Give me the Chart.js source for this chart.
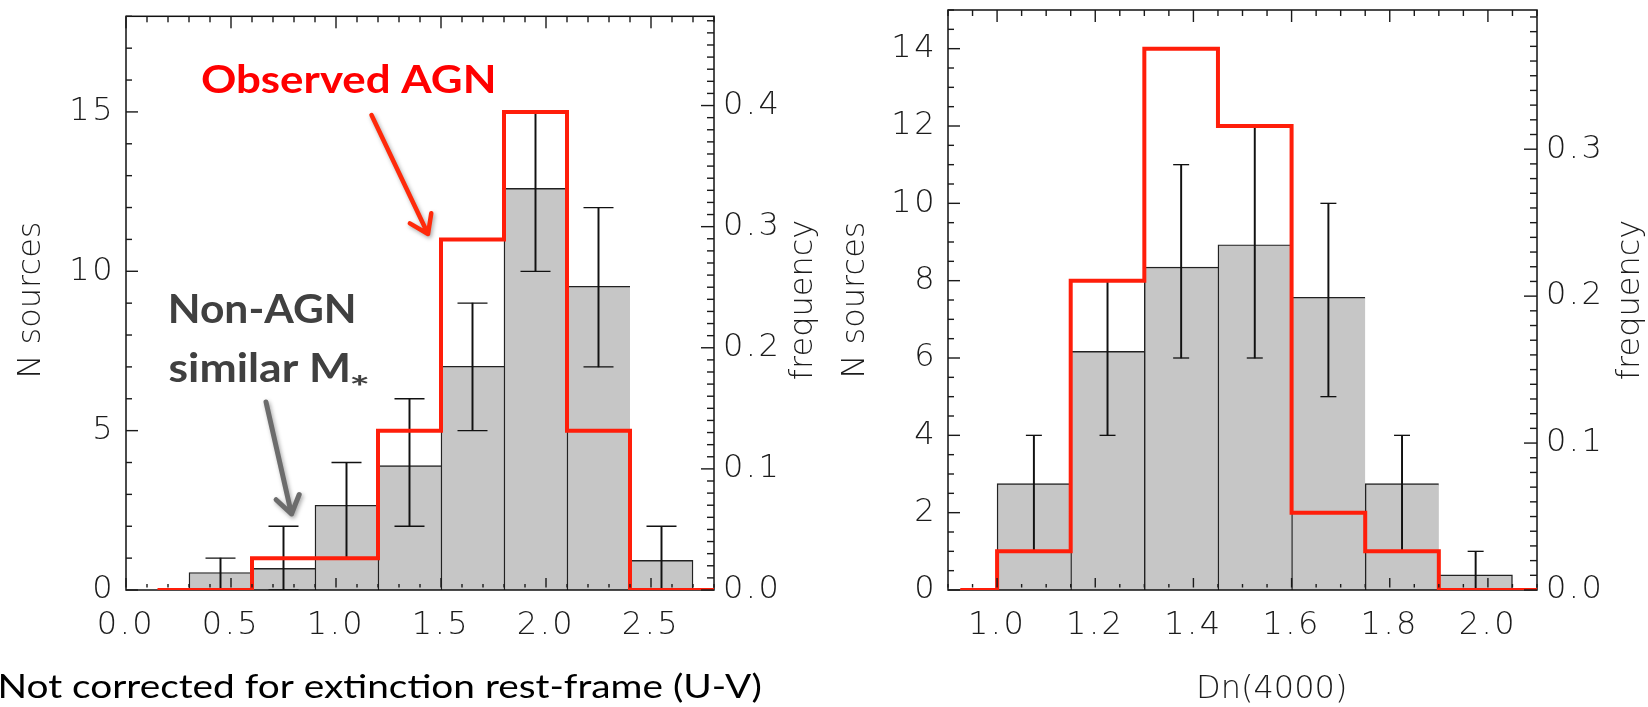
<!DOCTYPE html>
<html><head><meta charset="utf-8">
<script src="https://cdn.jsdelivr.net/npm/chart.js@4/dist/chart.umd.min.js"></script>
<style>
html,body{margin:0;padding:0;background:#fff;width:1648px;height:707px;overflow:hidden}
.wrap{position:absolute;top:0;width:824px;height:707px}
#w1{left:0}#w2{left:824px}
</style></head><body>
<div class="wrap" id="w1"><canvas id="c1"></canvas></div>
<div class="wrap" id="w2"><canvas id="c2"></canvas></div>
<script>
// ---------- data: left panel, rest-frame (U-V) ----------
const uvAgnCenters  = [0.15,0.45,0.75,1.05,1.35,1.65,1.95,2.25,2.55,2.85];
const uvAgn         = [0,   0,   1,   1,   5,   11,  15,  5,   0,   0];
const uvBinCenters  = [0.45,0.75,1.05,1.35,1.65,1.95,2.25,2.55];
const uvNonAgn      = [0.55,0.68,2.66,3.9, 7.02,12.6,9.53,0.93];
const uvErrLo       = [0,   0,   1,   2,   5,   10,  7,   0];
const uvErrHi       = [1,   2,   4,   6,   9,   15,  12,  2];
const uvXTicks      = [0.0,0.5,1.0,1.5,2.0,2.5];
const uvNTicks      = [0,5,10,15];
const uvFreqTicks   = [0.0,0.1,0.2,0.3,0.4];

// ---------- data: right panel, Dn(4000) ----------
const dnAgnCenters  = [0.925,1.075,1.225,1.375,1.525,1.675,1.825,1.975,2.125];
const dnAgn         = [0,    1,    8,    14,   12,   2,    1,    0,    0];
const dnBinCenters  = [1.075,1.225,1.375,1.525,1.675,1.825,1.975];
const dnNonAgn      = [2.75, 6.17, 8.35, 8.93, 7.57, 2.75, 0.39];
const dnErrLo       = [1,    4,    6,    6,    5,    1,    0];
const dnErrHi       = [4,    8,    11,   12,   10,   4,    1];
const dnXTicks      = [1.0,1.2,1.4,1.6,1.8,2.0];
const dnNTicks      = [0,2,4,6,8,10,12,14];
const dnFreqTicks   = [0.0,0.1,0.2,0.3];

const agnTotal = 38;   // frequency = N / total AGN

// ---------- styling ----------
const THIN = "'DejaVu Sans', sans-serif";
const CAL = "Lato, 'Open Sans', sans-serif";
const INK = '#1c1c1c';

function inkText(ctx, txt, font, x, y, color, targetW, align) {
  ctx.save();
  ctx.letterSpacing = '0px';
  ctx.font = font; ctx.fillStyle = color; ctx.textBaseline = 'alphabetic'; ctx.textAlign = 'left';
  const m = ctx.measureText(txt);
  const w = m.actualBoundingBoxLeft + m.actualBoundingBoxRight;
  const sx = targetW ? targetW / w : 1;
  let left = x;
  if (align === 'center') left = x - w * sx / 2;
  ctx.translate(left, y); ctx.scale(sx, 1);
  ctx.fillText(txt, m.actualBoundingBoxLeft, 0);
  ctx.restore();
}
function rotText(ctx, txt, cx, cy) {
  ctx.save();
  ctx.letterSpacing = '0px';
  ctx.font = `200 32px ${THIN}`; ctx.fillStyle = INK;
  ctx.textAlign = 'center'; ctx.textBaseline = 'middle';
  ctx.translate(cx, cy); ctx.rotate(-Math.PI / 2);
  ctx.fillText(txt, 0, 0);
  ctx.restore();
}
function arrow(ctx, x1, y1, x2, y2, color, lw) {
  ctx.save();
  ctx.strokeStyle = color; ctx.lineWidth = lw; ctx.lineCap = 'round'; ctx.lineJoin = 'round';
  ctx.shadowColor = 'rgba(0,0,0,0.35)'; ctx.shadowBlur = 4; ctx.shadowOffsetX = 1.5; ctx.shadowOffsetY = 2;
  const a = Math.atan2(y1 - y2, x1 - x2), L = 21, h = 0.6;
  ctx.beginPath();
  ctx.moveTo(x1, y1); ctx.lineTo(x2, y2);
  ctx.moveTo(x2 + L * Math.cos(a + h), y2 + L * Math.sin(a + h));
  ctx.lineTo(x2, y2);
  ctx.lineTo(x2 + L * Math.cos(a - h), y2 + L * Math.sin(a - h));
  ctx.stroke();
  ctx.restore();
}

function range(a, b, step) {
  const r = []; const n = Math.round((b - a) / step);
  for (let k = 0; k <= n; k++) r.push(a + k * step);
  return r;
}
function isMaj(v, step) { return Math.abs(v / step - Math.round(v / step)) < 1e-6; }

function drawFrame(chart) {
  const ctx = chart.ctx, ca = chart.chartArea;
  ctx.save();
  ctx.strokeStyle = '#111'; ctx.lineWidth = 1.5;
  ctx.strokeRect(ca.left, ca.top, ca.right - ca.left, ca.bottom - ca.top);
  ctx.restore();
}
function drawTicks(chart, p) {
  const ctx = chart.ctx, ca = chart.chartArea;
  const xs = chart.scales.x, ys = chart.scales.y, fs = chart.scales.yf;
  ctx.save();
  ctx.fillStyle = '#1a1a1a';
  const seg = (x, y, w, h) => ctx.fillRect(x, y, w, h);
  range(p.xMin, p.xMax, p.xMinor).forEach(v => {
    const px = xs.getPixelForValue(v);
    const L = isMaj(v, p.xMajor) ? 12 : 6;
    seg(px - 0.7, ca.bottom - L, 1.4, L - 2.5);
    seg(px - 0.7, ca.top, 1.4, L);
  });
  range(0, p.nMax, p.nMinor).forEach(v => {
    const py = ys.getPixelForValue(v);
    const L = isMaj(v, p.nMajor) ? 12 : 6;
    seg(ca.left, py - 0.7, L, 1.4);
  });
  range(0, Math.floor(p.nMax / agnTotal * 100) / 100, 0.01).forEach(v => {
    const py = fs.getPixelForValue(v);
    const L = isMaj(v, 0.1) ? 13 : 7;
    seg(ca.right - L, py - 0.7, L, 1.4);
  });
  ctx.restore();
}
function noPad(s) { s.paddingTop = 0; s.paddingBottom = 0; s.paddingLeft = 0; s.paddingRight = 0; }

function makePanel(canvasId, p) {
  const tickFont = {family: THIN, size: 32, weight: 200};
  const capData = [];
  p.centers.forEach((c, i) => { capData.push({x: c, y: p.lo[i]}); capData.push({x: c, y: p.hi[i]}); });
  return new Chart(document.getElementById(canvasId), {
    type: 'bar',
    data: {
      datasets: [
        { type: 'line', label: 'Observed AGN', order: 0,
          data: p.agnCenters.map((x, i) => ({x, y: p.agn[i]})),
          stepped: 'middle', borderColor: '#ff1e0a', borderWidth: 4, pointRadius: 0, fill: false,
          yAxisID: 'y' },
        { type: 'line', label: 'caps', order: 1, data: capData, showLine: false,
          pointStyle: 'line', pointRadius: p.capR, pointBorderColor: '#111', pointBorderWidth: 1.3,
          yAxisID: 'y' },
        { type: 'bar', label: 'err', order: 2,
          data: p.centers.map((x, i) => ({x, y: [p.lo[i], p.hi[i]]})),
          backgroundColor: '#111', barThickness: 1.3, grouped: false, borderWidth: 0, yAxisID: 'y' },
        { type: 'bar', label: 'Non-AGN similar M*', order: 3,
          data: p.centers.map((x, i) => ({x, y: p.non[i]})),
          backgroundColor: '#c6c6c6', borderColor: '#222', borderSkipped: false,
          borderWidth: c => ({top: 1.4, left: 1.4, bottom: 0, right: c.dataIndex === p.centers.length - 1 ? 1.4 : 0}),
          barPercentage: 1, categoryPercentage: 1, grouped: false, yAxisID: 'y' }
      ]
    },
    options: {
      responsive: true, maintainAspectRatio: false, animation: false, devicePixelRatio: 1,
      layout: {padding: {top: 10, left: 0, right: 0, bottom: 0}},
      plugins: {legend: {display: false}, tooltip: {enabled: false}},
      scales: {
        x: { type: 'linear', min: p.xMin, max: p.xMax, offset: false,
             grid: {display: false, drawTicks: false}, border: {display: false},
             afterBuildTicks: s => { s.ticks = p.xTicks.map(v => ({value: v})); },
             afterFit: s => { s.height = 707 - 590; noPad(s); },
             ticks: {padding: 16, font: tickFont, color: INK, autoSkip: false, maxRotation: 0,
                     callback: v => Number(v).toFixed(1)} },
        y: { position: 'left', min: 0, max: p.nMax,
             grid: {display: false, drawTicks: false}, border: {display: false},
             afterBuildTicks: s => { s.ticks = p.nTicks.map(v => ({value: v})); },
             afterFit: s => { s.width = p.areaLeft; noPad(s); },
             ticks: {padding: 11, font: tickFont, color: INK, autoSkip: false, callback: v => String(v)} },
        yf: { position: 'right', min: 0, max: p.nMax / agnTotal,
             grid: {display: false, drawTicks: false}, border: {display: false},
             afterBuildTicks: s => { s.ticks = p.fTicks.map(v => ({value: v})); },
             afterFit: s => { s.width = 824 - p.areaRight; noPad(s); },
             ticks: {padding: 9, font: tickFont, color: INK, autoSkip: false, callback: v => Number(v).toFixed(1)} }
      }
    },
    plugins: [{
      id: 'deco',
      beforeDraw(chart) { chart.ctx.letterSpacing = '2.5px'; },
      afterDatasetDraw(chart, args) {
        if (chart.data.datasets[args.index].order === 3) drawFrame(chart);
      },
      afterDraw(chart) {
        chart.ctx.letterSpacing = '0px';
        drawTicks(chart, p);
        p.texts(chart.ctx);
      }
    }]
  });
}

makePanel('c1', {
  xMin: 0, xMax: 2.8, xMinor: 0.1, xMajor: 0.5, nMax: 18, nMinor: 1, nMajor: 5,
  areaLeft: 126, areaRight: 714, capR: 15,
  xTicks: uvXTicks, nTicks: uvNTicks, fTicks: uvFreqTicks,
  agnCenters: uvAgnCenters, agn: uvAgn, centers: uvBinCenters, non: uvNonAgn, lo: uvErrLo, hi: uvErrHi,
  texts(ctx) {
    rotText(ctx, 'N sources', 31.5, 300);
    rotText(ctx, 'frequency', 804, 300);
    inkText(ctx, 'Not corrected for extinction rest-frame (U-V)', `400 33px ${CAL}`, 1, 698, '#000', 760);
    inkText(ctx, 'Observed AGN', `700 39px ${CAL}`, 202, 93, '#ff0000', 291);
    inkText(ctx, 'Non-AGN', `700 39.5px ${CAL}`, 171, 323, '#404040', 183);
    inkText(ctx, 'similar M', `700 39.5px ${CAL}`, 168.5, 381.5, '#404040', 180);
    inkText(ctx, '*', `700 30px ${CAL}`, 351, 398, '#404040', 18);
    arrow(ctx, 371.5, 115, 428, 234, '#ff2a0a', 4.5);
    arrow(ctx, 266, 402, 291.5, 514, '#6c6c6c', 5);
  }
});

makePanel('c2', {
  xMin: 0.9, xMax: 2.1, xMinor: 0.05, xMajor: 0.2, nMax: 15, nMinor: 0.5, nMajor: 2,
  areaLeft: 124, areaRight: 713, capR: 8,
  xTicks: dnXTicks, nTicks: dnNTicks, fTicks: dnFreqTicks,
  agnCenters: dnAgnCenters, agn: dnAgn, centers: dnBinCenters, non: dnNonAgn, lo: dnErrLo, hi: dnErrHi,
  texts(ctx) {
    rotText(ctx, 'N sources', 31.5, 300);
    rotText(ctx, 'frequency', 807, 300);
    inkText(ctx, 'Dn(4000)', `200 32px ${THIN}`, 448, 698, INK, 0, 'center');
  }
});
</script>
</body></html>
